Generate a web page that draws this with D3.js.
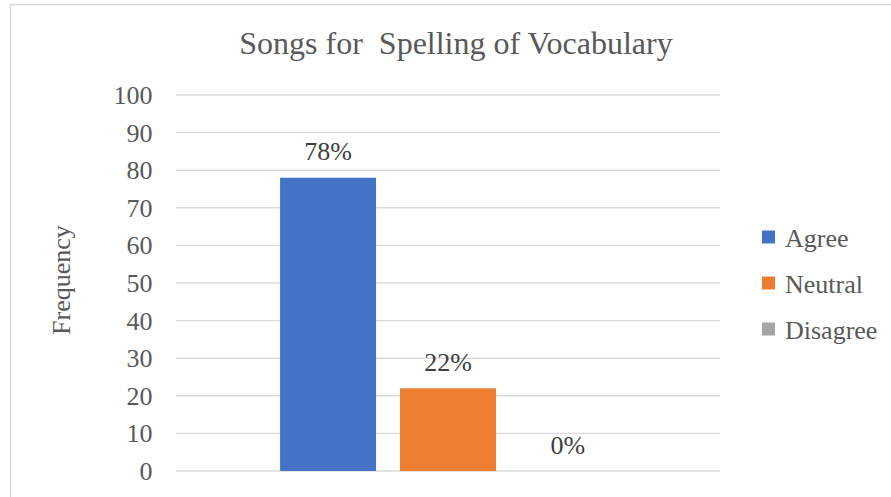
<!DOCTYPE html>
<html>
<head>
<meta charset="utf-8">
<script src="https://cdn.jsdelivr.net/npm/d3@7"></script>
<style>
  html, body { margin: 0; padding: 0; background: #fff; }
  svg { display: block; }
</style>
</head>
<body>
<svg id="chart" width="891" height="497"></svg>
<script>
// Survey responses for one statement, as percentages of respondents
const chartTitle = "Songs for  Spelling of Vocabulary";
const yAxisTitle = "Frequency";
const category = ["Songs"];
const seriesNames = ["Agree", "Neutral", "Disagree"];
const seriesValues = [78, 22, 0];
const seriesLabels = ["78%", "22%", "0%"];
const seriesColors = ["#4472c4", "#ed7d31", "#a5a5a5"];
const yTicks = [0, 10, 20, 30, 40, 50, 60, 70, 80, 90, 100];

const FONT = "Liberation Serif";
const svg = d3.select("#chart");
const W = 891, H = 497;
const plot = { left: 176, right: 720, top: 95, bottom: 471 };

// Chart frame
svg.append("rect")
  .attr("x", 10.5).attr("y", 4.5)
  .attr("width", W + 20).attr("height", H + 20)
  .attr("fill", "#fff").attr("stroke", "#d9d9d9").attr("stroke-width", 1.5);

const y = d3.scaleLinear().domain([0, 100]).range([plot.bottom, plot.top]);
const x0 = d3.scaleBand().domain(category).range([plot.left, plot.right])
  .paddingInner(0).paddingOuter(0.31);
const x1 = d3.scaleBand().domain(seriesNames).range([0, x0.bandwidth()])
  .paddingInner(0.2).paddingOuter(0);

// Gridlines
svg.append("g").selectAll("line").data(yTicks).join("line")
  .attr("x1", plot.left).attr("x2", plot.right)
  .attr("y1", d => y(d)).attr("y2", d => y(d))
  .attr("stroke", "#d9d9d9").attr("stroke-width", 1.4);

// Y axis tick labels
const yAxis = d3.axisLeft(y).tickValues(yTicks).tickSize(0).tickPadding(0);
const gy = svg.append("g").attr("transform", `translate(${plot.left - 23.5},0)`).call(yAxis)
  .attr("font-family", FONT).attr("font-size", 26);
gy.select(".domain").remove();
gy.selectAll("text")
  .attr("font-family", FONT)
  .attr("font-size", 26).attr("fill", "#595959").attr("dy", "0.33em");

// Bars
const groups = svg.append("g").selectAll("g").data(category).join("g")
  .attr("transform", d => `translate(${x0(d)},0)`);

const rows = seriesNames.map((s, i) => ({ name: s, value: seriesValues[i], label: seriesLabels[i], color: seriesColors[i] }));

groups.selectAll("rect").data(rows).join("rect")
  .attr("x", d => x1(d.name))
  .attr("y", d => y(d.value))
  .attr("width", x1.bandwidth())
  .attr("height", d => y(0) - y(d.value))
  .attr("fill", d => d.color);

// Data labels
groups.selectAll("text.val").data(rows).join("text")
  .attr("class", "val")
  .attr("x", d => x1(d.name) + x1.bandwidth() / 2)
  .attr("y", d => y(d.value) - 17.5)
  .attr("text-anchor", "middle")
  .attr("font-family", FONT)
  .attr("font-size", 26).attr("fill", "#404040")
  .text(d => d.label);

// Title
svg.append("text")
  .attr("x", 456).attr("y", 54)
  .attr("text-anchor", "middle")
  .attr("font-family", FONT)
  .attr("font-size", 32).attr("fill", "#595959")
  .attr("xml:space", "preserve")
  .style("white-space", "pre")
  .text(chartTitle);

// Y axis title
svg.append("text")
  .attr("transform", `translate(70,280) rotate(-90)`)
  .attr("text-anchor", "middle")
  .attr("font-family", FONT)
  .attr("font-size", 26).attr("fill", "#595959")
  .text(yAxisTitle);

// Legend
const legend = svg.append("g").selectAll("g").data(rows).join("g")
  .attr("transform", (d, i) => `translate(762,${237 + i * 46})`);
legend.append("rect")
  .attr("x", 0).attr("y", -6.5).attr("width", 13).attr("height", 13)
  .attr("fill", d => d.color);
legend.append("text")
  .attr("x", 23).attr("y", 0).attr("dy", "0.37em")
  .attr("font-family", FONT)
  .attr("font-size", 26).attr("fill", "#595959")
  .text(d => d.name);
</script>
</body>
</html>
